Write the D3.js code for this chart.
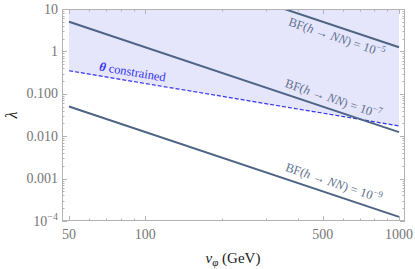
<!DOCTYPE html>
<html>
<head>
<meta charset="utf-8">
<script src="https://cdn.jsdelivr.net/npm/d3@7"></script>
<style>
  body { margin: 0; background: #fff; }
  text { font-family: "Liberation Serif", "DejaVu Serif", serif; }
</style>
</head>
<body>
<div id="chart"></div>
<script>
// data (lambda vs v_phi, straight lines in log-log)
var vPts = [50, 1000]
var lam9 = [0.05, 0.000125]     // BF = 1e-9
var lam7 = [5, 0.0125]          // BF = 1e-7
var lam5 = [500, 1.25]          // BF = 1e-5
var thetaLam = [0.35, 0.0175]   // theta constrained (dashed)

var yMajor = [1e-4, 1e-3, 1e-2, 1e-1, 1, 10]
var yLabels = ['10|−4', '0.001', '0.010', '0.100', '1', '10']
var xMajor = [50, 100, 500, 1000]
var xLabels = ['50', '100', '500', '1000']
var xMinor = [60, 70, 80, 90, 200, 300, 400, 600, 700, 800, 900]

var width = 415, height = 269
var frame = {left: 62, right: 405, top: 9, bottom: 221}

var svg = d3.select('#chart').append('svg')
    .attr('width', width)
    .attr('height', height)

var x = d3.scaleLog().domain([50, 1000]).range([69, 399])
var y = d3.scaleLog().domain([1e-4, 10]).range([frame.bottom, frame.top])

svg.append('clipPath').attr('id', 'clip')
  .append('rect')
    .attr('x', frame.left).attr('y', frame.top)
    .attr('width', frame.right - frame.left)
    .attr('height', frame.bottom - frame.top)

var plot = svg.append('g').attr('clip-path', 'url(#clip)')

// shaded region above the theta line
var shade = vPts.map((v, i) => ({v: v, lo: thetaLam[i], hi: 10}))
plot.append('path')
    .datum(shade)
    .attr('fill', '#e5e5fb')
    .attr('d', d3.area().x(d => x(d.v)).y0(d => y(d.lo)).y1(d => y(d.hi)))

var line = d3.line().x(d => x(d.v)).y(d => y(d.l))
function pts(arr) { return vPts.map((v, i) => ({v: v, l: arr[i]})) }

plot.append('path').datum(pts(thetaLam))
    .attr('fill', 'none').attr('stroke', '#3434f5')
    .attr('stroke-width', 1.2).attr('stroke-dasharray', '4,2')
    .attr('d', line)

;[lam9, lam7, lam5].forEach(arr => {
  plot.append('path').datum(pts(arr))
      .attr('fill', 'none').attr('stroke', '#4d6484')
      .attr('stroke-width', 2)
      .attr('d', line)
})

// frame
svg.append('rect')
    .attr('x', frame.left + 0.5).attr('y', frame.top + 0.5)
    .attr('width', frame.right - frame.left - 1)
    .attr('height', frame.bottom - frame.top - 1)
    .attr('fill', 'none').attr('stroke', '#b3b3b3').attr('stroke-width', 1)

var ticks = svg.append('g').attr('stroke', '#b3b3b3').attr('stroke-width', 1)
var yMinor = []
for (var e = -4; e < 1; e++) for (var k = 2; k <= 9; k++) yMinor.push(k * Math.pow(10, e))

function ytick(v, len) {
  var yy = Math.round(y(v)) + 0.5
  ticks.append('line').attr('x1', frame.left).attr('x2', frame.left + len).attr('y1', yy).attr('y2', yy)
  ticks.append('line').attr('x1', frame.right).attr('x2', frame.right - len).attr('y1', yy).attr('y2', yy)
}
function xtick(v, len) {
  var xx = Math.round(x(v)) + 0.5
  ticks.append('line').attr('y1', frame.bottom).attr('y2', frame.bottom - len).attr('x1', xx).attr('x2', xx)
  ticks.append('line').attr('y1', frame.top).attr('y2', frame.top + len).attr('x1', xx).attr('x2', xx)
}
yMajor.forEach(v => ytick(v, 5))
yMinor.forEach(v => ytick(v, 2.5))
xMajor.forEach(v => xtick(v, 5))
xMinor.forEach(v => xtick(v, 2.5))

// tick labels
yMajor.forEach((v, i) => {
  var t = svg.append('text')
      .attr('x', 58).attr('y', y(v) + 4.5)
      .attr('text-anchor', 'end')
      .attr('font-size', 14).attr('fill', '#767676')
  var parts = yLabels[i].split('|')
  t.append('tspan').text(parts[0])
  if (parts[1]) t.append('tspan').attr('dy', -6).attr('font-size', 10).text(parts[1])
})
xMajor.forEach((v, i) => {
  svg.append('text')
      .attr('x', x(v)).attr('y', 239)
      .attr('text-anchor', 'middle')
      .attr('font-size', 14).attr('fill', '#767676')
      .text(xLabels[i])
})

// axis titles
var xt = svg.append('text')
    .attr('x', 233).attr('y', 263)
    .attr('text-anchor', 'middle')
    .attr('font-size', 15).attr('fill', '#222')
xt.append('tspan').attr('font-style', 'italic').text('v')
xt.append('tspan').attr('font-style', 'italic').attr('font-size', 11).attr('dy', 3).text('φ')
xt.append('tspan').attr('dy', -3).text(' (GeV)')

svg.append('text')
    .attr('transform', 'translate(17,115) rotate(-90)')
    .attr('text-anchor', 'middle')
    .attr('font-size', 16).attr('fill', '#222')
    .attr('font-style', 'italic')
    .text('λ')

// labels along lines
function placeLabel(arr, px, off, color) {
  var a = Math.atan2(y(arr[1]) - y(arr[0]), x(vPts[1]) - x(vPts[0]))
  var v = x.invert(px)
  var l = Math.exp(d3.interpolateNumber(Math.log(arr[0]), Math.log(arr[1]))(Math.log(v / vPts[0]) / Math.log(vPts[1] / vPts[0])))
  var cx = px - off * Math.sin(a), cy = y(l) + off * Math.cos(a)
  return svg.append('text')
      .attr('transform', `translate(${cx},${cy}) rotate(${a * 180 / Math.PI})`)
      .attr('text-anchor', 'middle')
      .attr('dy', '0.35em')
      .attr('font-size', 12.5).attr('fill', color)
}
function bfLabel(t, exp) {
  t.append('tspan').text('BF(')
  t.append('tspan').attr('font-style', 'italic').text('h')
  t.append('tspan').text(' → ')
  t.append('tspan').attr('font-style', 'italic').text('NN')
  t.append('tspan').text(') = 10')
  t.append('tspan').attr('font-size', 9).attr('dy', -5).text(exp)
}
bfLabel(placeLabel(lam5, 340, 10, '#62718e'), '−5')
bfLabel(placeLabel(lam7, 330, -11, '#62718e'), '−7')
bfLabel(placeLabel(lam9, 330, -12, '#62718e'), '−9')

var th = placeLabel(thetaLam, 131, -9.5, '#3434f5')
th.append('tspan').attr('font-style', 'italic').attr('font-weight', 'bold').text('θ')
th.append('tspan').text(' constrained')
</script>
</body>
</html>
